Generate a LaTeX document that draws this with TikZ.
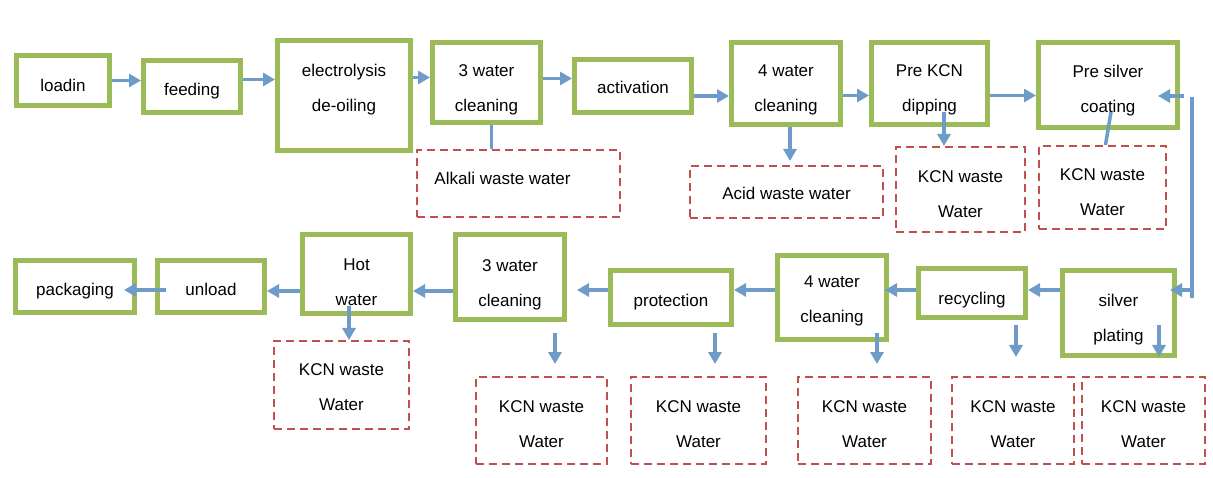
\documentclass[tikz,border=0pt]{standalone}
\usepackage{fontspec}
\setmainfont{Liberation Sans}
\usetikzlibrary{arrows.meta}

\definecolor{stepgreen}{RGB}{155,187,89}
\definecolor{flowblue}{RGB}{110,155,200}
\definecolor{wastered}{RGB}{192,80,77}

\begin{document}
\begin{tikzpicture}[x=1pt, y=-1pt,
    every node/.style={font=\fontsize{17}{35}\selectfont},
    process/.style={draw=stepgreen, line width=5pt, align=center, inner sep=0pt, text height=22pt},
    waste/.style={draw=wastered, line width=2pt, dash pattern=on 8pt off 5pt, align=center, inner sep=0pt, text height=54pt},
    flow/.style={flowblue, line width=3.5pt, -{Triangle[width=13pt,length=12pt]}},
    link/.style={flowblue, line width=3.5pt}]
    \path[use as bounding box, fill=white] (0, 0) rectangle (1213, 478);

    % Top row of process steps
    \node[process, minimum width=93, minimum height=50] (load) at (63, 80.5) {loadin};
    \node[process, minimum width=97, minimum height=52] (feed) at (192, 86.5) {feeding};
    \node[process, minimum width=133, minimum height=110, text height=48pt, text depth=15.6pt] (elec) at (344, 95.5) {electrolysis\\de-oiling};
    \node[process, minimum width=108, minimum height=80, text height=61pt] (cleanA) at (486.5, 82.5) {3 water\\cleaning};
    \node[process, minimum width=117, minimum height=53, text height=16pt] (act) at (633, 86) {activation};
    \node[process, minimum width=109, minimum height=82, text height=60pt] (cleanB) at (786, 83.5) {4 water\\cleaning};
    \node[process, minimum width=116, minimum height=82, text height=60pt] (dip) at (929.5, 83.5) {Pre KCN\\dipping};
    \node[process, minimum width=139, minimum height=85, text height=58pt] (precoat) at (1108, 85) {Pre silver\\coating};

    % Bottom row, running right to left
    \node[process, minimum width=112, minimum height=85, text height=60pt] (plate) at (1118.5, 313) {silver\\plating};
    \node[process, minimum width=107, minimum height=49, text height=26pt] (recyc) at (972, 293) {recycling};
    \node[process, minimum width=109, minimum height=84, text height=54pt] (cleanC) at (832, 297.5) {4 water\\cleaning};
    \node[process, minimum width=121, minimum height=54] (prot) at (671, 297.5) {protection};
    \node[process, minimum width=109, minimum height=85, text height=62pt] (cleanD) at (510, 277) {3 water\\cleaning};
    \node[process, minimum width=108, minimum height=79, text height=64pt] (hot) at (356.5, 274) {Hot\\water};
    \node[process, minimum width=107, minimum height=52, text height=18pt] (unload) at (211, 286.5) {unload};
    \node[process, minimum width=119, minimum height=52] (pack) at (75, 286.5) {packaging};

    % Waste water
    \node[waste, minimum width=203, minimum height=67, text height=12.3pt, text depth=10pt] (alkali) at (518.5, 183.5) {Alkali waste water\hspace*{32pt}};
    \node[waste, minimum width=193, minimum height=52, text height=16pt] (acid) at (786.5, 192) {Acid waste water};
    \node[waste, minimum width=129, minimum height=85, text height=56pt] (kcnA) at (960.5, 189.5) {KCN waste\\Water};
    \node[waste, minimum width=127, minimum height=83, text height=56pt] (kcnB) at (1102.5, 187.5) {KCN waste\\Water};
    \node[waste, minimum width=135, minimum height=88, text height=52pt] (kcnC) at (341.5, 385) {KCN waste\\Water};
    \node[waste, minimum width=131, minimum height=87] (kcnD) at (541.5, 420.5) {KCN waste\\Water};
    \node[waste, minimum width=135, minimum height=87] (kcnE) at (698.5, 420.5) {KCN waste\\Water};
    \node[waste, minimum width=133, minimum height=87] (kcnF) at (864.5, 420.5) {KCN waste\\Water};
    \node[waste, minimum width=122, minimum height=87] (kcnG) at (1013, 420.5) {KCN waste\\Water};
    \node[waste, minimum width=123, minimum height=87] (kcnH) at (1143.5, 420.5) {KCN waste\\Water};

    % Flow along the top row
    \draw[flow] (load.east) -- (load.east -| feed.west);
    \draw[flow] ([yshift=7pt]feed.east) -- ([yshift=7pt]feed.east -| elec.west);
    \draw[flow] ([yshift=5pt]elec.east |- cleanA) -- ([yshift=5pt]cleanA.west);
    \draw[flow] ([yshift=4pt]cleanA.east) -- ([yshift=4pt]cleanA.east -| act.west);
    \draw[flow] ([yshift=-10pt]act.east) -- ([yshift=-10pt]act.east -| cleanB.west);
    \draw[flow] ([yshift=-12pt]cleanB.east) -- ([yshift=-12pt]dip.west);
    \draw[flow] ([yshift=-12pt]dip.east) -- ([yshift=-12pt]dip.east -| precoat.west);

    % Top row into the waste water
    \draw[link] ([xshift=5pt]cleanA.south) -- ([xshift=5pt]cleanA.south |- alkali.north);
    \draw[flow, shorten >=4pt] ([xshift=4pt]cleanB.south) -- ([xshift=4pt]cleanB.south |- acid.north);
    \draw[flow] ([xshift=14.5pt,yshift=15pt]dip.south) -- ([xshift=14.5pt]dip.south |- kcnA.north);
    \draw[link] ([xshift=3pt,yshift=18pt]precoat.south) -- ([xshift=3pt]kcnB.north);

    % Return line on the right
    \coordinate (loopTop) at (1192, 96);
    \coordinate (loopIn) at (1192, 290);
    \coordinate (loopBot) at (1192, 298);
    \draw[flow] ([xshift=-8pt]loopTop) -- ([xshift=-22pt]precoat.east |- loopTop);
    \draw[link] ([yshift=-1pt]loopTop) -- (loopBot);
    \draw[flow] (loopIn) -- ([xshift=-7pt]plate.east |- loopIn);

    % Flow along the bottom row
    \draw[flow] ([yshift=3pt]plate.west |- recyc) -- ([yshift=3pt]recyc.east);
    \draw[flow] ([yshift=3pt]recyc.west) -- ([xshift=-4pt,yshift=3pt]recyc.west -| cleanC.east);
    \draw[flow] ([yshift=7.5pt]cleanC.west) -- ([yshift=7.5pt]prot.east);
    \draw[flow, shorten >=10pt] ([yshift=7.5pt]prot.west) -- ([yshift=7.5pt]prot.west -| cleanD.east);
    \draw[flow] ([yshift=-14pt]cleanD.west) -- ([yshift=-14pt]cleanD.west -| hot.east);
    \draw[flow] ([yshift=-17pt]hot.west) -- ([yshift=-17pt]hot.west -| unload.east);
    \draw[flow] ([xshift=11pt,yshift=-3.5pt]unload.west) -- ([xshift=-13pt,yshift=-3.5pt]unload.west -| pack.east);

    % Bottom row into the waste water
    \draw[flow] ([xshift=-7.5pt,yshift=10pt]hot.south) -- ([xshift=-7.5pt]hot.south |- kcnC.north);
    \draw[flow, shorten <=11pt, shorten >=12pt] ([xshift=45pt]cleanD.south) -- ([xshift=45pt]cleanD.south |- kcnD.north);
    \draw[flow, shorten <=6pt, shorten >=12pt] ([xshift=44pt]prot.south) -- ([xshift=44pt]prot.south |- kcnE.north);
    \draw[flow, shorten >=12pt] ([xshift=45pt,yshift=9pt]cleanC.south) -- ([xshift=45pt]cleanC.south |- kcnF.north);
    \draw[flow, shorten <=5pt, shorten >=19pt] ([xshift=44pt]recyc.south) -- ([xshift=44pt]recyc.south |- kcnG.north);
    \draw[flow, shorten >=19pt] ([xshift=40.5pt,yshift=33pt]plate.south) -- ([xshift=40.5pt]plate.south |- kcnH.north);
\end{tikzpicture}
\end{document}
